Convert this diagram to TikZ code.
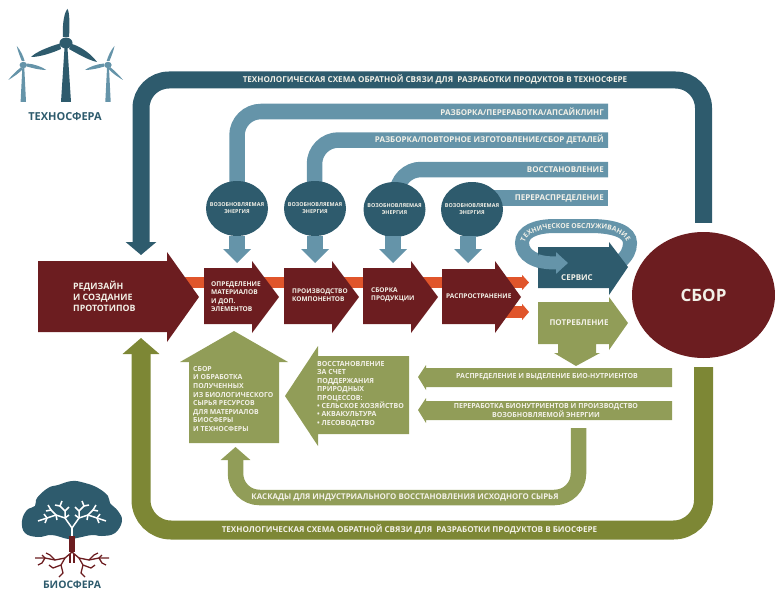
\documentclass[tikz,border=0pt]{standalone}
\usepackage{fontspec}
\setmainfont{Open Sans}
\usetikzlibrary{arrows.meta,shapes.geometric,decorations.text}
\definecolor{deepteal}{HTML}{2E5B6D}
\definecolor{paleteal}{HTML}{6594A9}
\definecolor{wine}{HTML}{6C1D20}
\definecolor{flame}{HTML}{E0552B}
\definecolor{deepolive}{HTML}{7D8735}
\definecolor{paleolive}{HTML}{919D58}
\definecolor{paper}{HTML}{F3F1E8}
\begin{document}
\begin{tikzpicture}[x=1pt,y=-1pt,
  lab/.style={text=paper,inner sep=0pt,font=\bfseries\fontsize{#1}{#1}\selectfont},
  lab/.default=7,
  para/.style={lab=7,align=left,anchor=west,font=\bfseries\fontsize{6.6}{8.5}\selectfont},
  sphere/.style={inner sep=0pt,text=deepteal,font=\bfseries\fontsize{11}{12}\selectfont},
  energy/.style={ellipse,fill=deepteal,minimum width=62pt,minimum height=55pt,inner sep=0pt},
  energytext/.style={text=paper,inner sep=0pt,align=center,font=\bfseries\fontsize{5.4}{7}\selectfont},
  band/.style={draw=#1,line width=15.5pt,rounded corners=24pt},
]
\useasboundingbox (0,0) rectangle (775,591);

\coordinate (techMid) at (420,80);
\coordinate (techTip) at (141,255);
\coordinate (bioMid) at (420,530);
\coordinate (bioTip) at (141,338);
\coordinate (axisA) at (237,208);
\coordinate (axisB) at (314.5,208);
\coordinate (axisC) at (397,208);
\coordinate (axisD) at (472,198);
\coordinate (endA) at (608,111.5);
\coordinate (endB) at (608,140);
\coordinate (endC) at (608,169.5);
\coordinate (endD) at (608,198);
\coordinate (cascadeTop) at (578.5,428);
\coordinate (cascadeMid) at (400,497.5);
\coordinate (cascadeTip) at (235.5,447);

\node[ellipse,fill=wine,minimum width=143pt,minimum height=126pt,inner sep=0pt,text=paper,font=\bfseries\fontsize{17}{18}\selectfont] (collect) at (703.5,295) {СБОР};

\draw[band=deepteal,line width=17pt,rounded corners=28pt,shorten <=9pt,-{Triangle[width=30pt,length=13pt]}] (collect.north) |- (techMid) -| (techTip);
\draw[band=deepolive,line width=19pt,rounded corners=30pt,shorten <=9pt,-{Triangle[width=36pt,length=16pt]}] (collect.south) |- (bioMid) -| (bioTip);
\draw[band=paleolive,-{Triangle[width=29pt,length=13pt]}] (cascadeTop) |- (cascadeMid) -| (cascadeTip);

\draw[band=paleteal] (axisA) |- (endA);
\draw[band=paleteal] (axisB) |- (endB);
\draw[band=paleteal] (axisC) |- (endC);
\draw[band=paleteal,rounded corners=0pt] (axisD) -- (endD);

\foreach \n/\x/\y in {A/237/208.5,B/315/208.5,C/394.5/209.5,D/472/209.5}{
  \node[energy] (energy\n) at (\x,\y) {};
  \node[energytext] (energyText\n) at (energy\n) {ВОЗОБНОВЛЯЕМАЯ\\ЭНЕРГИЯ};
}
\foreach \n/\x in {A/237,B/315,C/393,D/468}{
  \coordinate (tip\n) at (\x,263);
  \fill[paleteal] (\x-8.25,236) rectangle (\x+8.25,250);
  \fill[paleteal] (\x-14,249) -- (\x+14,249) -- (tip\n) -- cycle;
}

\draw[flame,line width=11pt,-{Triangle[width=15pt,length=7pt]}] (185,282.5) -- (529,282.5);
\draw[flame,line width=12pt,-{Triangle[width=16pt,length=7pt]}] (500,312) -- (529,312);
\fill[wine] (38,261) -- (167,261) -- (167,252) -- (199,297) -- (167,342) -- (167,332) -- (38,332) -- cycle;
\foreach \x in {204,284,363}
  \fill[wine] (\x,268) -- ++(48,0) -- ++(0,-7) -- (\x+75,297) -- (\x+48,333) -- ++(0,-9) -- ++(-48,0) -- cycle;
\fill[wine] (442,269) -- (495,269) -- (495,261) -- (521,297) -- (495,333) -- (495,324) -- (442,324) -- cycle;

\draw[paleteal,line width=14pt] (620,262) .. controls (627,256) and (630,250) .. (630,243) .. controls (630,232) and (615,226) .. (590,226) -- (555,226) .. controls (535,226) and (522,232) .. (522,243) .. controls (522,255) and (535,263) .. (556,263);
\fill[deepteal] (538,247) -- (609,247) -- (609,242) -- (628,267) -- (609,295) -- (609,288) -- (538,288) -- cycle;
\draw[paleteal,line width=13pt,-{Triangle[width=21pt,length=12pt]}] (537,260.5) .. controls (543,262.5) and (549,263) .. (568,263);
\path[decorate,decoration={text along path,text align=center,text={|\bfseries\fontsize{6.8}{7}\selectfont\color{paper}|ТЕХНИЧЕСКОЕ ОБСЛУЖИВАНИЕ}}] (524.5,249) .. controls (522,233) and (540,228.5) .. (560,228.5) -- (590,228.5) .. controls (612,228.5) and (627,233) .. (628.5,248);
\fill[paleolive] (538,302) -- (609,302) -- (609,297) -- (628,323) -- (609,350) -- (609,344) -- (596,344) -- (596,353) -- (600,353) -- (576,366) -- (554,353) -- (558,353) -- (558,344) -- (538,344) -- cycle;

\fill[paleolive] (672,368) -- (426,368) -- (426,365) -- (418,377) -- (426,390) -- (426,387) -- (672,387) -- cycle;
\fill[paleolive] (672,401) -- (426,401) -- (426,398) -- (418,410) -- (426,423) -- (426,420) -- (672,420) -- cycle;
\fill[paleolive] (189,443) -- (189,362) -- (180,362) -- (234,331) -- (288,362) -- (279,362) -- (279,443) -- cycle;
\fill[paleolive] (409,356) -- (318,356) -- (318,346) -- (285,396) -- (318,446) -- (318,434) -- (409,434) -- cycle;

\node[lab=8.8,anchor=west,align=left,font=\bfseries\fontsize{8.8}{11}\selectfont] (redesign) at (73,296) {РЕДИЗАЙН\\И СОЗДАНИЕ\\ПРОТОТИПОВ};
\node[para] (materials) at (211,296.5) {ОПРЕДЕЛЕНИЕ\\МАТЕРИАЛОВ\\И ДОП.\\ЭЛЕМЕНТОВ};
\node[para,font=\bfseries\fontsize{6.5}{8.5}\selectfont] (parts) at (292,295) {ПРОИЗВОДСТВО\\КОМПОНЕНТОВ};
\node[para,font=\bfseries\fontsize{6.5}{8.5}\selectfont] (assembly) at (371,295) {СБОРКА\\ПРОДУКЦИИ};
\node[lab=6.5,anchor=west] (spread) at (446,296) {РАСПРОСТРАНЕНИЕ};
\node[lab=8] (service) at (577,278) {СЕРВИС};
\node[lab=8] (usage) at (579,323) {ПОТРЕБЛЕНИЕ};
\node[para,font=\bfseries\fontsize{6.9}{8.6}\selectfont] (gather) at (193,399) {СБОР\\И ОБРАБОТКА\\ПОЛУЧЕННЫХ\\ИЗ БИОЛОГИЧЕСКОГО\\СЫРЬЯ РЕСУРСОВ\\ДЛЯ МАТЕРИАЛОВ\\БИОСФЕРЫ\\И ТЕХНОСФЕРЫ};
\node[para,font=\bfseries\fontsize{7}{8.4}\selectfont] (restore) at (317,394) {ВОССТАНОВЛЕНИЕ\\ЗА СЧЕТ\\ПОДДЕРЖАНИЯ\\ПРИРОДНЫХ\\ПРОЦЕССОВ:\\• СЕЛЬСКОЕ ХОЗЯЙСТВО\\• АКВАКУЛЬТУРА\\• ЛЕСОВОДСТВО};
\node[lab=7] (nutrients) at (547,377) {РАСПРЕДЕЛЕНИЕ И ВЫДЕЛЕНИЕ БИО-НУТРИЕНТОВ};
\node[lab=7,align=center,font=\bfseries\fontsize{7}{9}\selectfont] (bioenergy) at (546,410.5) {ПЕРЕРАБОТКА БИОНУТРИЕНТОВ И ПРОИЗВОДСТВО\\ВОЗОБНОВЛЯЕМОЙ ЭНЕРГИИ};
\node[lab=7.9] (cascade) at (405,497) {КАСКАДЫ ДЛЯ ИНДУСТРИАЛЬНОГО ВОССТАНОВЛЕНИЯ ИСХОДНОГО СЫРЬЯ};
\node[lab=8.1] (bioLoop) at (409.5,530) {ТЕХНОЛОГИЧЕСКАЯ СХЕМА ОБРАТНОЙ СВЯЗИ ДЛЯ\ \ РАЗРАБОТКИ ПРОДУКТОВ В БИОСФЕРЕ};
\node[lab=8.1] (techLoop) at (435,80) {ТЕХНОЛОГИЧЕСКАЯ СХЕМА ОБРАТНОЙ СВЯЗИ ДЛЯ\ \ РАЗРАБОТКИ ПРОДУКТОВ В ТЕХНОСФЕРЕ};
\node[lab=8,anchor=east] (upcycle) at (604,112) {РАЗБОРКА/ПЕРЕРАБОТКА/АПСАЙКЛИНГ};
\node[lab=8,anchor=east] (remake) at (604,140) {РАЗБОРКА/ПОВТОРНОЕ ИЗГОТОВЛЕНИЕ/СБОР ДЕТАЛЕЙ};
\node[lab=8,anchor=east] (repair) at (604,170) {ВОССТАНОВЛЕНИЕ};
\node[lab=8,anchor=east] (resale) at (604,198) {ПЕРЕРАСПРЕДЕЛЕНИЕ};

\node[sphere] (techSphere) at (65,117) {ТЕХНОСФЕРА};
\node[sphere,font=\bfseries\fontsize{10.4}{11}\selectfont] (bioSphere) at (72,584.5) {БИОСФЕРА};

\fill[deepteal] (61,102) -- (64.5,48) -- (67.5,48) -- (71,102) -- cycle;
\fill[deepteal] (63,37) .. controls (62,22) and (65,11) .. (67.5,9) .. controls (69.5,12) and (70,25) .. (69,37) -- cycle;
\fill[deepteal] (60,43.5) .. controls (48,47) and (36,52) .. (31,57) .. controls (40,57) and (52,53) .. (61,49) -- cycle;
\fill[deepteal] (72,44) .. controls (82,47) and (92,55) .. (97,62) .. controls (88,60) and (78,54) .. (69,49) -- cycle;
\fill[deepteal] (66,43) ellipse (6.5pt and 5.5pt);
\foreach \s/\h in {1/23.3,-1/108}{
  \begin{scope}[shift={(\h,65)},xscale=\s,paleteal]
    \fill (-2.7,37) -- (-1,3) -- (1,3) -- (2.7,37) -- cycle;
    \fill (-1.5,-4) .. controls (-4,-10) and (-6,-16) .. (-6.5,-19) .. controls (-3,-15) and (0,-9) .. (1.3,-4) -- cycle;
    \fill (4,-1.5) .. controls (11,-1) and (19,2) .. (23,5) .. controls (16,5) and (9,3) .. (3.5,1.5) -- cycle;
    \fill (-2,2) .. controls (-7,6) and (-12,11) .. (-15,15) .. controls (-10,12) and (-4,8) .. (-0.5,4) -- cycle;
    \fill (0,0) ellipse (3.7pt and 3.2pt);
  \end{scope}
}

\fill[deepteal] plot[smooth cycle,tension=0.7] coordinates {(68,539) (52,535) (38,537) (25,533) (22,521) (27,510) (35,506) (37,498) (48,488) (58,485) (72,481) (85,483) (98,488) (108,496) (110,503) (118,511) (122,521) (115,533) (102,536) (92,535) (77,538)};
\draw[white,line width=2.5pt] (72,538) -- (72,527);
\foreach \s in {1,-1}{
  \begin{scope}[shift={(72,528)},xscale=\s,white,line width=1.5pt]
    \draw (0,0) -- (-7,-10) -- (-16,-13) -- (-25,-10) -- (-34,-7);
    \draw (-16,-13) -- (-21,-18) -- (-26,-17);
    \draw (-21,-18) -- (-24,-23);
    \draw (-7,-10) -- (-7,-17) -- (-12,-22) -- (-10,-27);
    \draw (-7,-17) -- (-3,-21);
    \draw (-25,-10) -- (-28,-14);
    \draw (-25,-10) -- (-27,-5);
    \draw (-16,-13) -- (-15,-8);
    \draw (-12,-22) -- (-17,-23);
    \draw (-7,-10) -- (-3,-13);
  \end{scope}
}
\fill[wine] (69,536) rectangle (74.5,552);
\foreach \s in {1,-1}{
  \begin{scope}[shift={(72,552)},xscale=\s,wine,line width=1.3pt]
    \draw (0,0) -- (-7,6) -- (-17,8) -- (-27,6) -- (-37,6);
    \draw (-17,8) -- (-22,3) -- (-26,1);
    \draw (-27,6) -- (-30,11) -- (-34,13);
    \draw (-7,6) -- (-11,13) -- (-19,16);
    \draw (-11,13) -- (-9,21) -- (-13,25);
    \draw (-30,3) -- (-27,6);
    \draw (-19,16) -- (-23,13);
    \draw (-2,2) -- (-2,11);
  \end{scope}
}
\end{tikzpicture}
\end{document}
